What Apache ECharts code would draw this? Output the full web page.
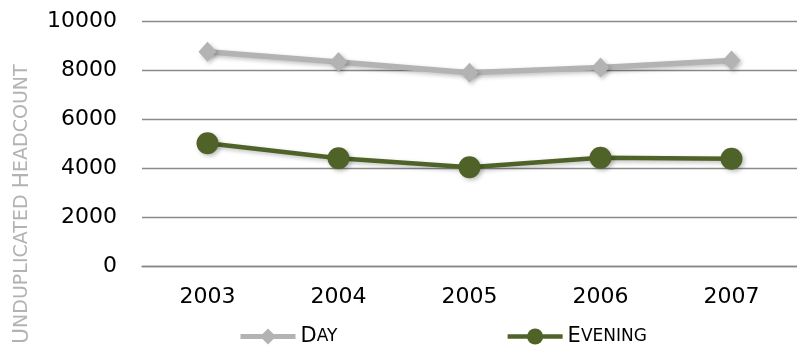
<!DOCTYPE html>
<html>
<head>
<meta charset="utf-8">
<script src="https://cdn.jsdelivr.net/npm/echarts@6/dist/echarts.min.js"></script>
<style>
  html, body { margin: 0; padding: 0; background: #fff; }
  #chart { width: 797px; height: 351px; }
</style>
</head>
<body>
<div id="chart"></div>
<script>
// Unduplicated headcount by year, day vs evening students
const years = ['2003', '2004', '2005', '2006', '2007'];
const dayCounts = [8745, 8330, 7890, 8100, 8390];
const eveningCounts = [5010, 4395, 4030, 4415, 4380];
const yTicks = { min: 0, max: 10000, step: 2000 };

const FONT = '"DejaVu Sans", sans-serif';
const DAY_COLOR = '#b3b3b3';
const EVENING_COLOR = '#4f6228';
const chart = echarts.init(document.getElementById('chart'), null, { renderer: 'canvas' });

const shadow = { shadowBlur: 4, shadowColor: 'rgba(0,0,0,0.25)', shadowOffsetX: 2, shadowOffsetY: 2 };

// small-caps style label: first letter full size, rest in smaller capitals
function smallCaps(word) {
  return '{c|' + word.charAt(0).toUpperCase() + '}{s|' + word.slice(1).toUpperCase() + '}';
}

chart.setOption({
  backgroundColor: '#ffffff',
  animation: false,
  grid: { left: 142, top: 21, width: 662, height: 245, containLabel: false },
  legend: {
    left: 233, top: 321,
    itemWidth: 55, itemHeight: 20, itemGap: 168,
    data: [
      { name: 'Day', lineStyle: { width: 5, color: DAY_COLOR } },
      { name: 'Evening', lineStyle: { width: 4.5, color: EVENING_COLOR } }
    ],
    formatter: smallCaps,
    textStyle: {
      color: '#000',
      rich: {
        c: { fontFamily: FONT, fontSize: 21, color: '#000' },
        s: { fontFamily: FONT, fontSize: 17, color: '#000' }
      }
    }
  },
  xAxis: {
    type: 'category',
    data: years,
    boundaryGap: true,
    axisLine: { lineStyle: { color: '#888', width: 1.3 } },
    axisTick: { alignWithLabel: true, length: 6, lineStyle: { color: '#888' } },
    axisLabel: { color: '#000', fontFamily: FONT, fontSize: 22, margin: 20 }
  },
  yAxis: {
    type: 'value',
    min: yTicks.min, max: yTicks.max, interval: yTicks.step,
    axisLine: { show: false },
    axisTick: { show: false },
    axisLabel: {
      color: '#000', fontFamily: FONT, fontSize: 22, margin: 25,
      formatter: function (v) { return String(v); }
    },
    splitLine: { lineStyle: { color: '#8a8a8a', width: 1.3 } }
  },
  graphic: [{
    type: 'text',
    x: 11, y: 344,
    rotation: Math.PI / 2,
    style: {
      text: smallCaps('Unduplicated') + '{s| }' + smallCaps('Headcount'),
      rich: {
        c: { fontFamily: FONT, fontSize: 22, fill: DAY_COLOR },
        s: { fontFamily: FONT, fontSize: 19, fill: DAY_COLOR }
      },
      textVerticalAlign: 'top'
    }
  }],
  series: [
    {
      name: 'Day',
      type: 'line',
      data: dayCounts,
      symbol: 'diamond',
      symbolSize: [18, 20],
      color: DAY_COLOR,
      lineStyle: Object.assign({ width: 5.5, color: DAY_COLOR }, shadow),
      itemStyle: Object.assign({ color: DAY_COLOR }, shadow)
    },
    {
      name: 'Evening',
      type: 'line',
      data: eveningCounts,
      symbol: 'circle',
      symbolSize: 22,
      color: EVENING_COLOR,
      lineStyle: Object.assign({ width: 4.5, color: EVENING_COLOR }, shadow),
      itemStyle: Object.assign({ color: EVENING_COLOR }, shadow)
    }
  ]
});
</script>
</body>
</html>
